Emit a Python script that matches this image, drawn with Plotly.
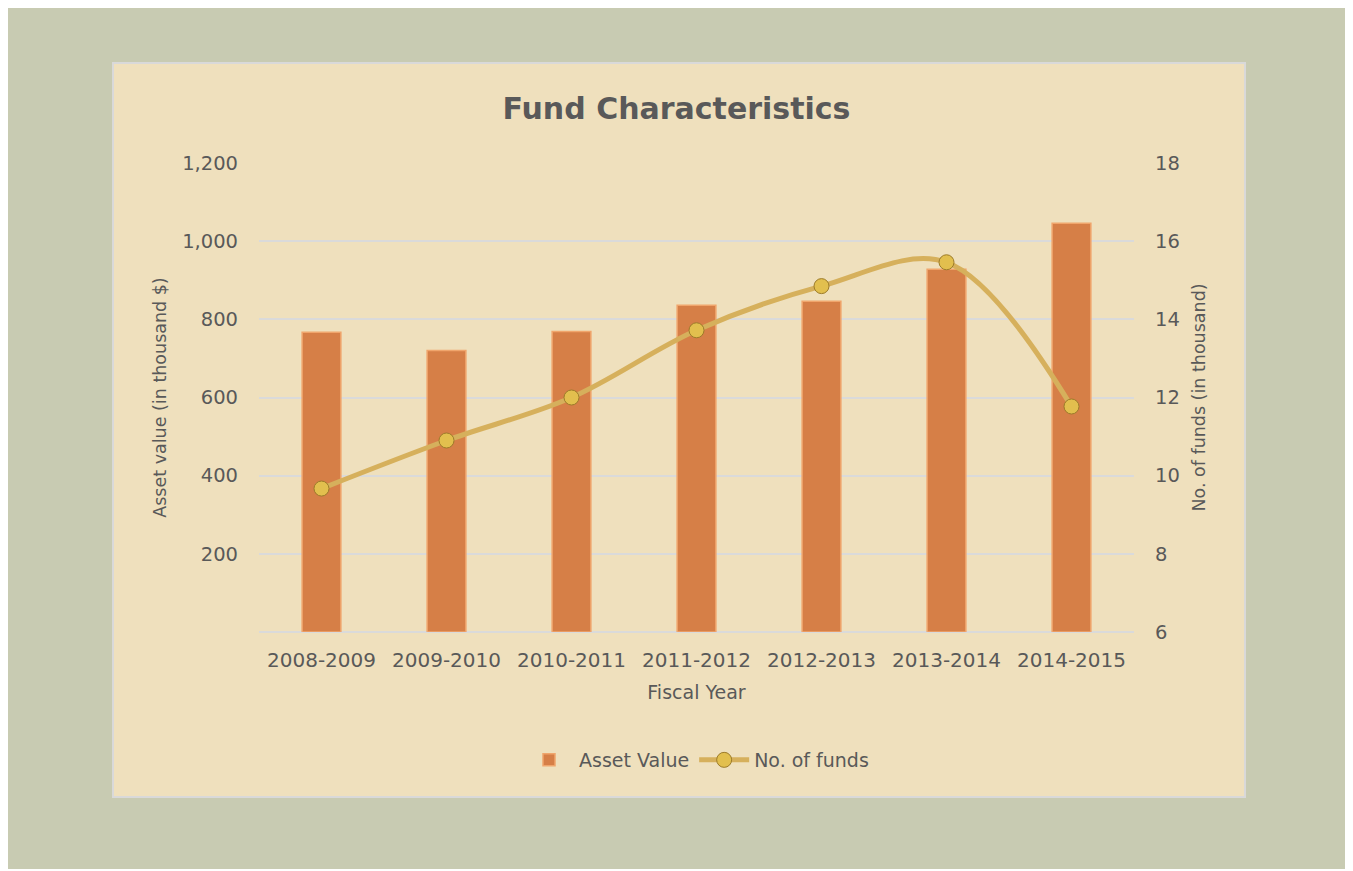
import plotly.graph_objects as go

years = ["2008-2009", "2009-2010", "2010-2011", "2011-2012", "2012-2013", "2013-2014", "2014-2015"]
asset_value = [767, 720, 769, 836, 846, 928, 1046]
num_funds = [9.67, 10.9, 12.0, 13.72, 14.85, 15.46, 11.77]
left_ticks = [200, 400, 600, 800, 1000, 1200]
left_tick_text = ["200", "400", "600", "800", "1,000", "1,200"]
right_ticks = [6, 8, 10, 12, 14, 16, 18]

FONT = "DejaVu Sans"
TXT = "#595959"

W, H = 1337, 861
# plot area in figure pixels
PL, PR, PT, PB = 251, 1126, 155, 624
# inner panel in figure pixels
IL, IR, IT, IB = 105, 1237, 55, 789

def px(x):
    return (x - PL) / (PR - PL)

def py(y):
    return (PB - y) / (PB - PT)

fig = go.Figure()
fig.add_trace(go.Bar(
    x=years, y=asset_value, name="Asset Value",
    marker=dict(color="#D67F47", line=dict(color="#F0A56C", width=1.5)),
    width=0.31, yaxis="y",
))
fig.add_trace(go.Scatter(
    x=years, y=num_funds, name="No. of funds", yaxis="y2",
    mode="lines+markers",
    line=dict(color="#D6B05C", width=5, shape="spline", smoothing=1.0),
    marker=dict(size=15, color="#E2BF4E", line=dict(color="#9C7B2A", width=1)),
))

fig.add_shape(type="rect", xref="paper", yref="paper",
              x0=px(IL), x1=px(IR), y0=py(IB), y1=py(IT),
              fillcolor="#EFE0BD", line=dict(color="#D9D9D9", width=2), layer="below")

fig.update_layout(
    width=W, height=H,
    margin=dict(l=PL, r=W - PR, t=PT, b=H - PB, pad=0),
    paper_bgcolor="#C8CBB2",
    plot_bgcolor="rgba(0,0,0,0)",
    font=dict(family=FONT, color=TXT, size=19),
    title=dict(text="<b>Fund Characteristics</b>", x=0.5, xanchor="center",
               y=1 - 100 / H, yanchor="middle",
               font=dict(family=FONT, size=30, color=TXT)),
    xaxis=dict(
        type="category", showgrid=False, showline=False, zeroline=False,
        ticks="", tickfont=dict(size=20, color=TXT), ticklabelstandoff=14,
        title=dict(text="Fiscal Year", font=dict(size=19, color=TXT), standoff=14),
    ),
    yaxis=dict(
        range=[0, 1200], tickvals=left_ticks, ticktext=left_tick_text,
        showgrid=True, gridcolor="#DADADA", gridwidth=1.5,
        zeroline=True, zerolinecolor="#DADADA", zerolinewidth=1.5,
        showline=False, ticks="", ticklabelstandoff=20,
        tickfont=dict(size=19.5, color=TXT),
        title=dict(text="Asset value (in thousand $)", font=dict(size=17.5, color=TXT), standoff=11),
    ),
    yaxis2=dict(
        range=[6, 18], tickvals=right_ticks, overlaying="y", side="right",
        showgrid=False, zeroline=False, showline=False, ticks="",
        ticklabelstandoff=20, tickfont=dict(size=19.5, color=TXT),
        title=dict(text="No. of funds (in thousand)", font=dict(size=17.5, color=TXT), standoff=13),
    ),
    legend=dict(orientation="h", x=0.5, xanchor="center", y=py(752), yanchor="middle",
                font=dict(size=19, color=TXT), bgcolor="rgba(0,0,0,0)",
                itemwidth=50),
    showlegend=True,
    bargap=0.5,
)

fig.write_html("out.html")
